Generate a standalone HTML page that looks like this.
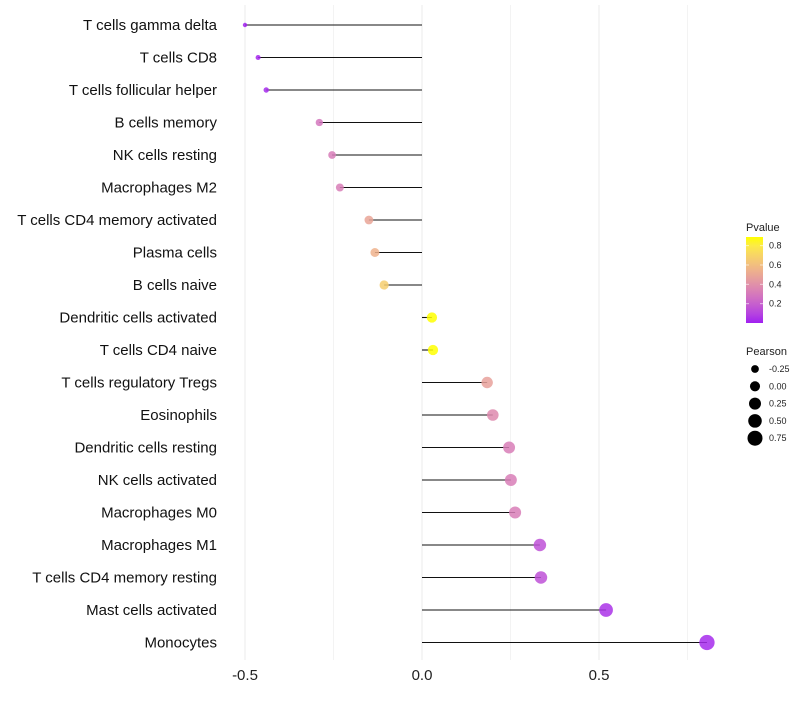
<!DOCTYPE html>
<html><head><meta charset="utf-8"><style>
body{margin:0;background:#fff;font-family:"Liberation Sans",sans-serif}
</style></head><body>
<svg id="chart" width="800" height="700" xmlns="http://www.w3.org/2000/svg" font-family="Liberation Sans, sans-serif">
<defs><linearGradient id="pg" x1="0" y1="1" x2="0" y2="0"></linearGradient></defs>
<g id="grid"></g>
<g id="marks"></g>
<g id="labels"></g>
<g id="xt"></g>
<g>
<text x="746" y="231" font-size="11" fill="#222">Pvalue</text>
<rect x="746" y="237" width="17" height="86" fill="url(#pg)"/>
<g id="cbt"></g>
</g>
<g id="sleg">
<text x="746" y="355" font-size="11" fill="#222">Pearson</text>
</g>
</svg>
<script>
const cells=["T cells gamma delta","T cells CD8","T cells follicular helper","B cells memory","NK cells resting","Macrophages M2","T cells CD4 memory activated","Plasma cells","B cells naive","Dendritic cells activated","T cells CD4 naive","T cells regulatory  Tregs","Eosinophils","Dendritic cells resting","NK cells activated","Macrophages M0","Macrophages M1","T cells CD4 memory resting","Mast cells activated","Monocytes"];
const pearson=[-0.5,-0.463,-0.44,-0.29,-0.254,-0.232,-0.15,-0.133,-0.107,0.028,0.031,0.184,0.2,0.246,0.251,0.263,0.333,0.336,0.52,0.805];
const pvalue=[0.01,0.02,0.03,0.3,0.32,0.33,0.5,0.55,0.68,0.9,0.9,0.48,0.38,0.33,0.33,0.33,0.15,0.15,0.05,0.03];
const xTicks=[-0.5,0,0.5];
const cbTicks=[0.2,0.4,0.6,0.8];
const sizeTicks=[-0.25,0,0.25,0.5,0.75];
const NS="http://www.w3.org/2000/svg";
const X=v=>422+v*354;
const Y=i=>25+i*32.5;
const R=v=>1.1*Math.sqrt(4+34*(v+0.5));
const CBY=p=>323-p*96.7;
function toLab(c){let [r,g,b]=c.map(x=>{x/=255;return x>0.04045?Math.pow((x+0.055)/1.055,2.4):x/12.92;});
let x=(r*0.4124+g*0.3576+b*0.1805)/0.95047,y=r*0.2126+g*0.7152+b*0.0722,z=(r*0.0193+g*0.1192+b*0.9505)/1.08883;
const f=t=>t>0.008856?Math.cbrt(t):7.787*t+16/116;x=f(x);y=f(y);z=f(z);return [116*y-16,500*(x-y),200*(y-z)];}
function fromLab(l){let y=(l[0]+16)/116,x=l[1]/500+y,z=y-l[2]/200;const fi=t=>t*t*t>0.008856?t*t*t:(t-16/116)/7.787;
x=fi(x)*0.95047;y=fi(y);z=fi(z)*1.08883;
let r=x*3.2406+y*-1.5372+z*-0.4986,g=x*-0.9689+y*1.8758+z*0.0415,b=x*0.0557+y*-0.2040+z*1.0570;
return [r,g,b].map(v=>{v=v>0.0031308?1.055*Math.pow(v,1/2.4)-0.055:12.92*v;return Math.round(Math.max(0,Math.min(1,v))*255);});}
const LA=toLab([160,32,240]),LB=toLab([255,255,0]);
function colT(t){t=Math.max(0,Math.min(1,t));const c=fromLab(LA.map((v,k)=>v+(LB[k]-v)*t));return `rgb(${c.join(",")})`;}
const PMIN=0.005,PMAX=0.9;
const col=p=>colT((p-PMIN)/(PMAX-PMIN));
const grad=document.getElementById("pg");
for(let k=0;k<=10;k++){const s=document.createElementNS(NS,"stop");s.setAttribute("offset",k/10);s.setAttribute("stop-color",colT(k/10));grad.appendChild(s);}
function mk(tag,at,par){const e=document.createElementNS(NS,tag);for(const k in at)e.setAttribute(k,at[k]);document.getElementById(par).appendChild(e);return e;}
[-0.5,-0.25,0,0.25,0.5,0.75].forEach(v=>{const l=mk("line",{x1:X(v),x2:X(v),y1:5,y2:660,stroke:"#ebebeb","stroke-width":Math.abs(v*2%1)<1e-9?1:0.6},"grid");

});
cells.forEach((c,i)=>{
const s=mk("line",{x1:X(0),x2:X(pearson[i]),y1:Y(i),y2:Y(i),stroke:"#111","stroke-width":1.1},"marks");


const p=mk("circle",{cx:X(pearson[i]),cy:Y(i),r:R(pearson[i]),fill:col(pvalue[i]),"fill-opacity":0.85},"marks");


const t=mk("text",{x:217,y:Y(i)+5,"text-anchor":"end","font-size":15,fill:"#111"},"labels");t.textContent=c;


});
xTicks.forEach(v=>{const t=mk("text",{x:X(v),y:680,"text-anchor":"middle","font-size":15,fill:"#222"},"xt");t.textContent=v===0?"0.0":String(v);

});
cbTicks.forEach(v=>{mk("line",{x1:746,x2:749,y1:CBY(v),y2:CBY(v),stroke:"#fff","stroke-opacity":0.6},"cbt");mk("line",{x1:760,x2:763,y1:CBY(v),y2:CBY(v),stroke:"#fff","stroke-opacity":0.6},"cbt");
const t=mk("text",{x:769,y:CBY(v)+3,"font-size":9,fill:"#222"},"cbt");t.textContent=v.toFixed(1);

});
sizeTicks.forEach((v,i)=>{const y=369+i*17.3;
const c=mk("circle",{cx:755,cy:y,r:R(v)},"sleg");


const t=mk("text",{x:769,y:y+3,"font-size":9,fill:"#222"},"sleg");t.textContent=v.toFixed(2);

});
</script>
</body></html>
